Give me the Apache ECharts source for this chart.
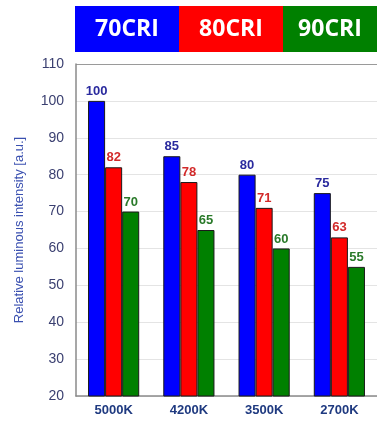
<!DOCTYPE html>
<html><head><meta charset="utf-8">
<script src="https://cdn.jsdelivr.net/npm/echarts@6/dist/echarts.min.js"></script>
<style>html,body{margin:0;padding:0;background:#fff}#c{width:377px;height:423px}</style>
</head><body><div id="c"></div>
<script>
const categories = ['5000K', '4200K', '3500K', '2700K'];
const seriesNames = ['70CRI', '80CRI', '90CRI'];
const cri70 = [100, 85, 80, 75];
const cri80 = [82, 78, 71, 63];
const cri90 = [70, 65, 60, 55];
const yTicks = [20, 30, 40, 50, 60, 70, 80, 90, 100, 110];

const fills = ['#0000ff', '#ff0000', '#008000'];
const labelColors = ['#2a2a9e', '#d22a2a', '#2a7a2a'];
const values = [cri70, cri80, cri90];

const legendX = [75, 179, 283];
const legendW = [104, 104, 94];
const graphic = [];
seriesNames.forEach((n, i) => {
  graphic.push({type: 'rect', left: legendX[i], top: 6, shape: {width: legendW[i], height: 46}, style: {fill: fills[i]}});
  graphic.push({type: 'text', x: legendX[i] + legendW[i] / 2, y: 29,
    style: {text: n, fill: '#fff', font: 'bold 23px "Open Sans"', textAlign: 'center', textVerticalAlign: 'middle'}});
});

const chart = echarts.init(document.getElementById('c'), null, {renderer: 'canvas'});
chart.setOption({
  animation: false,
  backgroundColor: '#fff',
  grid: {left: 76, right: -4, top: 64, bottom: 27, containLabel: false},
  graphic: graphic,
  xAxis: {
    type: 'category', data: categories,
    axisLine: {lineStyle: {color: '#8a8a8a', width: 1.5}},
    axisTick: {show: false},
    axisLabel: {margin: 8, color: '#1f3a80', fontWeight: 'bold', fontSize: 13, fontFamily: 'Liberation Sans'}
  },
  yAxis: {
    type: 'value', min: yTicks[0], max: yTicks[yTicks.length - 1], interval: 10,
    name: 'Relative luminous intensity [a.u.]', nameLocation: 'middle', nameGap: 50,
    nameTextStyle: {color: '#3a50b0', fontSize: 13, fontFamily: 'Liberation Sans'},
    axisLine: {show: true, lineStyle: {color: '#8a8a8a', width: 1.5}},
    axisTick: {show: false},
    axisLabel: {margin: 12, color: '#3a3f70', fontSize: 14, fontFamily: 'Liberation Sans'},
    splitLine: {show: true, lineStyle: {color: ['#e4e4e4','#e4e4e4','#e4e4e4','#e4e4e4','#e4e4e4','#e4e4e4','#e4e4e4','#e4e4e4','#e4e4e4','#9a9a9a'], width: 1}}
  },
  series: seriesNames.map((n, i) => ({
    name: n, type: 'bar', data: values[i],
    barGap: '0%', barCategoryGap: '32%',
    itemStyle: {color: fills[i], borderColor: '#1a1a1a', borderWidth: 1},
    label: {show: true, position: 'top', distance: 3, color: labelColors[i], fontWeight: 'bold', fontSize: 13, fontFamily: 'Liberation Sans'}
  }))
});
</script></body></html>
